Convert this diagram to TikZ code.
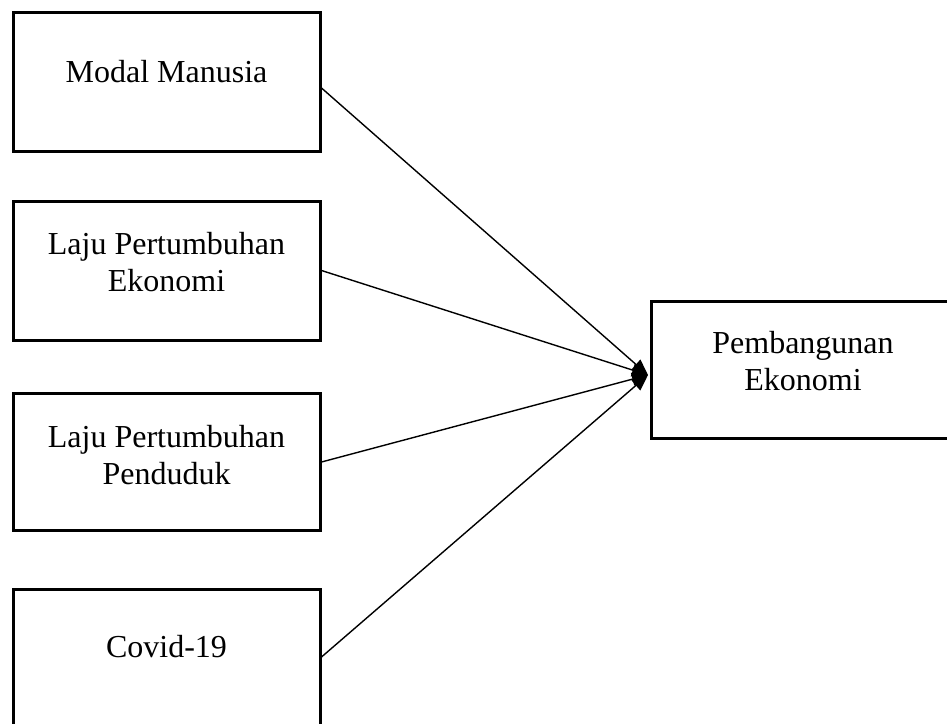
\documentclass[tikz,border=0pt]{standalone}
\usepackage{fontspec}
\setmainfont{Liberation Serif}
\usetikzlibrary{arrows.meta,calc}
\begin{document}
\begin{tikzpicture}[x=1pt,y=-1pt,
  box/.style={draw=black,line width=3pt,rectangle,inner sep=0pt},
  lbl/.style={align=center,font=\fontsize{32}{37}\selectfont,inner sep=0pt},
  conn/.style={line width=1.4pt,-{Triangle[length=16pt,width=13pt]}}]
\useasboundingbox (0,0) rectangle (947,723);
\clip (0,0) rectangle (947,723);
\node[box,minimum width=307pt,minimum height=139pt] (b1) at (166.5,81.5) {};
\node[box,minimum width=307pt,minimum height=139pt] (b2) at (166.5,270.5) {};
\node[box,minimum width=307pt,minimum height=137pt] (b3) at (166.5,462) {};
\node[box,minimum width=307pt,minimum height=136pt] (b4) at (166.5,657) {};
\node[box,minimum width=310pt,minimum height=137pt,anchor=west] (t) at (650,369.5) {};
\node[lbl] (l1) at (166.5,72) {Modal Manusia};
\node[lbl] (l2) at (166.5,262.5) {Laju Pertumbuhan\\Ekonomi};
\node[lbl] (l3) at (166.5,455) {Laju Pertumbuhan\\Penduduk};
\node[lbl] (l4) at (166.5,647) {Covid-19};
\node[lbl] (l5) at (803,361) {Pembangunan\\Ekonomi};
\coordinate (tip) at (648,375);
\draw[conn] ($(b1.east)+(0,6.5)$) -- (tip);
\draw[conn] (b2.east) -- (tip);
\draw[conn] (b3.east) -- (tip);
\draw[conn] (b4.east) -- (tip);
\end{tikzpicture}
\end{document}
